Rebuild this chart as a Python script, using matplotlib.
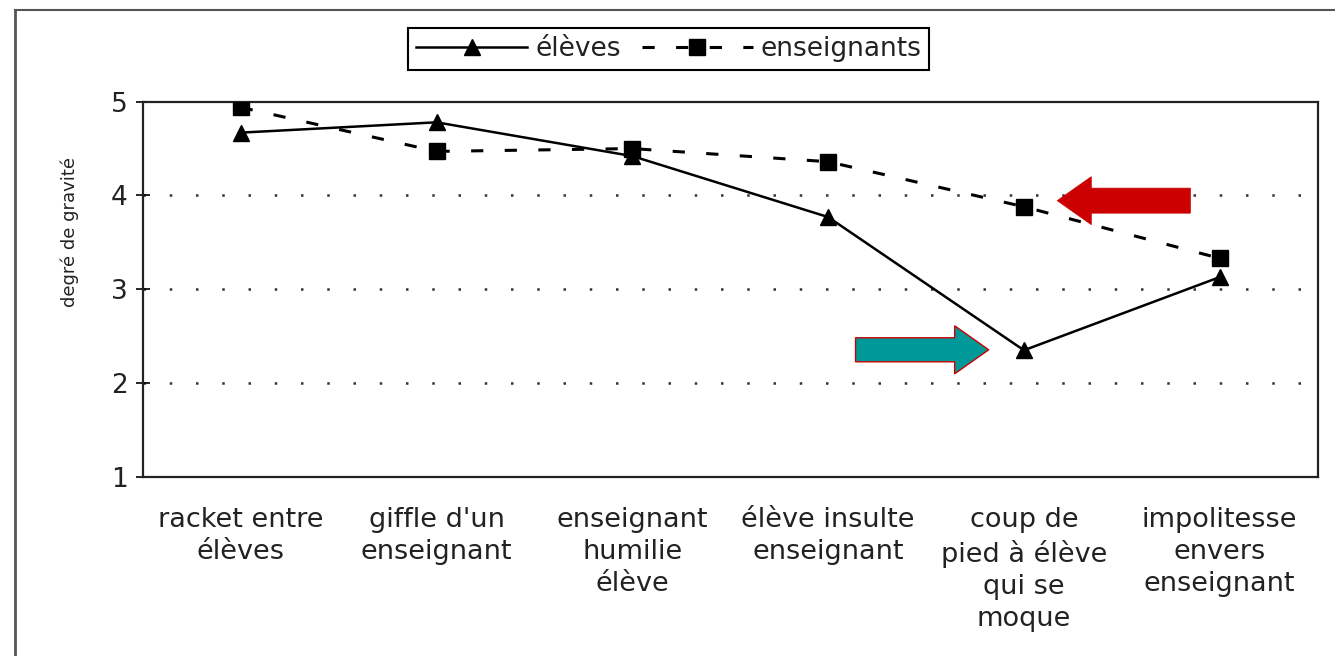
import numpy as np
import matplotlib
matplotlib.use("Agg")
import matplotlib.pyplot as plt
from matplotlib.patches import FancyArrow
from matplotlib.lines import Line2D

categories = ["racket entre\nélèves", "giffle d'un\nenseignant", "enseignant\nhumilie\nélève",
              "élève insulte\nenseignant", "coup de\npied à élève\nqui se\nmoque",
              "impolitesse\nenvers\nenseignant"]
eleves = [4.67, 4.78, 4.42, 3.77, 2.35, 3.13]
enseignants = [4.94, 4.47, 4.50, 4.36, 3.88, 3.33]
yticks = [1, 2, 3, 4, 5]

plt.rcParams['font.family'] = ['DejaVu Sans']

fig = plt.figure(figsize=(13.35, 6.56), dpi=100)
ax = fig.add_axes([0.107, 0.273, 0.880, 0.572])

x = np.arange(len(categories))

# grid
for yv in yticks[1:-1]:
    ax.axhline(yv, color="#333333", lw=1.8, linestyle=(0, (1.0, 9.5)), zorder=1)

ax.plot(x, eleves, color="black", lw=1.8, marker="^", markersize=12,
        label="élèves", zorder=3)
ens, = ax.plot(x, enseignants, color="black", lw=2.2, marker="s", markersize=11,
               label="enseignants", zorder=3)
ens.set_dashes((4.0, 7.0))

ax.set_xlim(-0.5, len(categories) - 0.5)
ax.set_ylim(1, 5)
ax.set_yticks(yticks)
ax.set_xticks(x)
ax.set_xticklabels(categories, fontsize=19.5, linespacing=1.3, color="#222222")
ax.tick_params(axis="x", length=0, pad=22)
ax.tick_params(axis="y", direction="inout", length=10, width=1.2, labelsize=19,
               pad=6, labelcolor="#222222")
ax.set_ylabel("degré de gravité", fontsize=13, color="#222222")
ax.yaxis.set_label_coords(-0.054, 0.653)
for s in ax.spines.values():
    s.set_linewidth(1.6)
    s.set_color("#222222")

# arrows pointing at the 5th category
i = 4
ax.add_patch(FancyArrow(x[i] + 0.85, enseignants[i] + 0.065, -0.68, 0,
                        width=0.267, head_width=0.512, head_length=0.174,
                        length_includes_head=True, fc="#CC0000", ec="#CC0000",
                        lw=0.5, zorder=4))
ax.add_patch(FancyArrow(x[i] - 0.86, eleves[i] + 0.005, 0.68, 0,
                        width=0.256, head_width=0.512, head_length=0.174,
                        length_includes_head=True, fc="#009999", ec="#CC0000",
                        lw=1.0, zorder=4))

leg = fig.legend(loc="upper center", bbox_to_anchor=(0.501, 0.957), ncol=2,
                 fontsize=19, frameon=True, fancybox=False, framealpha=1,
                 edgecolor="black", handlelength=4.2, columnspacing=0.8,
                 handletextpad=0.3, borderpad=0.3, borderaxespad=0)
leg.get_frame().set_linewidth(1.5)
for t in leg.get_texts():
    t.set_color("#222222")

# outer frame of the scanned figure
fig.add_artist(Line2D([0.011, 0.011], [0.0, 0.984], color="#555555", lw=2))
fig.add_artist(Line2D([0.011, 1.0], [0.984, 0.984], color="#555555", lw=1.5))

fig.savefig("out.png", dpi=100)
